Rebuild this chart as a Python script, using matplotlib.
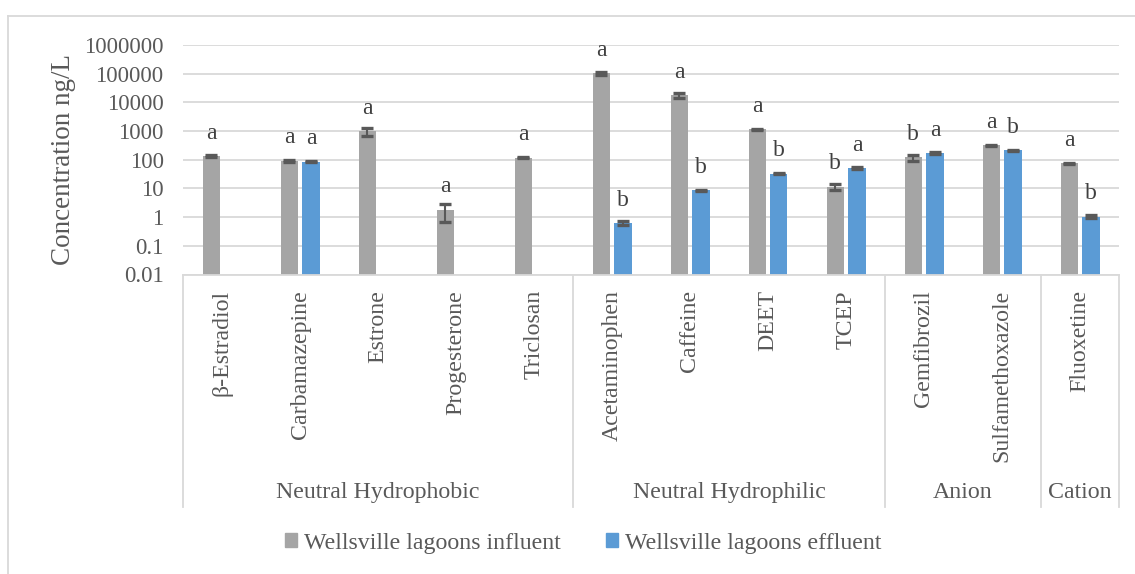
import numpy as np
import matplotlib
matplotlib.use("Agg")
import matplotlib.pyplot as plt
from matplotlib.transforms import blended_transform_factory
from matplotlib.patches import Patch

plt.rcParams["font.family"] = ["Liberation Serif", "DejaVu Serif"]

# Dati
compounds = ["β-Estradiol", "Carbamazepine", "Estrone", "Progesterone", "Triclosan",
             "Acetaminophen", "Caffeine", "DEET", "TCEP",
             "Gemfibrozil", "Sulfamethoxazole", "Fluoxetine"]
groups = ["Neutral Hydrophobic", "Neutral Hydrophilic", "Anion", "Cation"]
group_sizes = [5, 4, 2, 1]

influent = [135, 92, 1000, 1.8, 117, 102000, 17500, 1150, 11.5, 120, 320, 75]
influent_err = [8, 6, 330, 1.1, 5, 12000, 3000, 70, 2.5, 28, 20, 4]
influent_letters = ["a", "a", "a", "a", "a", "a", "a", "a", "b", "b", "a", "a"]

effluent = [np.nan, 85, np.nan, np.nan, np.nan, 0.62, 8.5, 33, 50, 170, 215, 1.05]
effluent_err = [np.nan, 4, np.nan, np.nan, np.nan, 0.1, 0.6, 1.5, 4, 15, 10, 0.09]
effluent_letters = ["", "a", "", "", "", "b", "b", "b", "a", "a", "b", "b"]

y_ticks = [0.01, 0.1, 1, 10, 100, 1000, 10000, 100000, 1000000]
y_tick_labels = ["0.01", "0.1", "1", "10", "100", "1000", "10000", "100000", "1000000"]

series_names = ["Wellsville lagoons influent", "Wellsville lagoons effluent"]

GRAY = "#A5A5A5"
BLUE = "#5B9BD5"
TEXT = "#595959"
LINE = "#D9D9D9"


def main():
    fig = plt.figure(figsize=(11.35, 5.74), dpi=100)
    ax = fig.add_axes([183 / 1135, 1 - 274.5 / 574, (1119 - 183) / 1135, 229.5 / 574])

    x = np.arange(len(compounds))
    off = 0.14
    w = 0.22
    ekw = dict(ecolor="#595959", elinewidth=1.5, capsize=4.5, capthick=2.4)
    ax.bar(x - off, influent, w, color=GRAY, yerr=influent_err, error_kw=ekw, zorder=2)
    ax.bar(x + off, effluent, w, color=BLUE, yerr=effluent_err, error_kw=ekw, zorder=2)

    # lettere sopra le barre
    for i in range(len(compounds)):
        if influent_letters[i]:
            ax.annotate(influent_letters[i], (x[i] - off, influent[i]), xytext=(0, 16.5),
                        textcoords="offset points", ha="center", va="center",
                        fontsize=17, color="#404040")
        if effluent_letters[i]:
            ax.annotate(effluent_letters[i], (x[i] + off, effluent[i]), xytext=(0, 16.5),
                        textcoords="offset points", ha="center", va="center",
                        fontsize=17, color="#404040")

    ax.set_yscale("log")
    ax.set_ylim(0.01, 1000000)
    ax.set_xlim(-0.5, len(compounds) - 0.5)
    ax.set_yticks(y_ticks)
    ax.set_yticklabels(y_tick_labels)
    ax.minorticks_off()
    ax.set_xticks([])
    ax.tick_params(axis="y", length=0, pad=14, labelsize=16.5, labelcolor=TEXT)
    ax.grid(axis="y", color=LINE, lw=1.3, zorder=0)
    ax.set_axisbelow(True)
    for s in ["left", "right", "top"]:
        ax.spines[s].set_visible(False)
    ax.spines["bottom"].set_color(LINE)
    ax.spines["bottom"].set_linewidth(1.3)
    ax.set_ylabel("Concentration ng/L", fontsize=19.5, color=TEXT, labelpad=6)

    # asse delle categorie a due livelli
    tr = blended_transform_factory(ax.transData, ax.transAxes)
    for i, name in enumerate(compounds):
        ax.text(x[i], -0.0675, name, rotation=90, ha="center", va="top",
                fontsize=17.2, color=TEXT, transform=tr)
    bounds = np.concatenate([[0], np.cumsum(group_sizes)]) - 0.5
    for b in bounds:
        ax.plot([b, b], [0, -1.013], color=LINE, lw=1.3, transform=tr, clip_on=False)
    for g, a, b in zip(groups, bounds[:-1], bounds[1:]):
        ax.text((a + b) / 2, -0.952, g, ha="center", va="center",
                fontsize=17.2, color=TEXT, transform=tr)

    handles = [Patch(color=GRAY), Patch(color=BLUE)]
    fig.legend(handles, series_names, loc="center", bbox_to_anchor=(583 / 1135, 1 - 543 / 574),
               ncol=2, frameon=False, fontsize=17.2, labelcolor=TEXT,
               handlelength=0.5, handleheight=0.5, handletextpad=0.3, columnspacing=1.9)

    # bordo del grafico
    fig.add_artist(plt.Line2D([8 / 1135, 1], [1 - 16 / 574, 1 - 16 / 574], color=LINE, lw=1.3))
    fig.add_artist(plt.Line2D([8 / 1135, 8 / 1135], [0, 1 - 16 / 574], color=LINE, lw=1.3))

    fig.savefig("out.png", dpi=100)


if __name__ == "__main__":
    main()
